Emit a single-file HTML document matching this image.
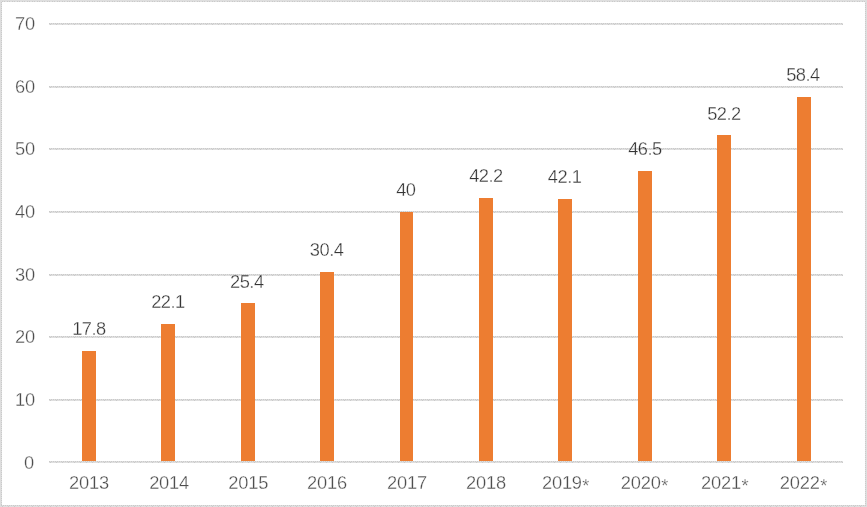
<!DOCTYPE html>
<html lang="en">
<head>
<meta charset="utf-8">
<title>Chart</title>
<style>
html,body{margin:0;padding:0;background:#fff;}
body{width:867px;height:507px;overflow:hidden;}
svg{display:block;}
text{font-family:"Liberation Sans",sans-serif;font-size:18.3px;fill:#4e4e4e;letter-spacing:-0.2px;stroke:#fff;stroke-width:0.3px;}
rect{shape-rendering:crispEdges;}
.b{fill:#ed7d31;}
.y{text-anchor:end;}
.x,.d{text-anchor:middle;}
.d{fill:#353535;letter-spacing:-0.5px;}
</style>
</head>
<body>
<svg width="867" height="507" viewBox="0 0 867 507">
<defs>
<pattern id="sp" x="2" y="0" width="6" height="1" patternUnits="userSpaceOnUse">
<rect x="0" y="0" width="6" height="1" fill="#dfdfdf"/><rect x="0" y="0" width="1" height="1" fill="#cacaca"/>
</pattern>
<pattern id="vl" x="0" y="1" width="1" height="2" patternUnits="userSpaceOnUse">
<rect x="0" y="0" width="1" height="1" fill="#cacaca"/><rect x="0" y="1" width="1" height="1" fill="#dfdfdf"/>
</pattern>
<pattern id="vl2" x="0" y="0" width="1" height="2" patternUnits="userSpaceOnUse">
<rect x="0" y="0" width="1" height="1" fill="#cacaca"/><rect x="0" y="1" width="1" height="1" fill="#dfdfdf"/>
</pattern>
<pattern id="tp" x="2" y="0" width="5" height="1" patternUnits="userSpaceOnUse">
<rect x="0" y="0" width="5" height="1" fill="#dfdfdf"/><rect x="0" y="0" width="1" height="1" fill="#cacaca"/><rect x="2" y="0" width="1" height="1" fill="#cacaca"/>
</pattern>
<pattern id="hl" x="1" y="0" width="2" height="1" patternUnits="userSpaceOnUse">
<rect x="0" y="0" width="1" height="1" fill="#cacaca"/><rect x="1" y="0" width="1" height="1" fill="#dfdfdf"/>
</pattern>
</defs>
<rect x="0" y="0" width="867" height="507" fill="#ffffff"/>
<rect x="0" y="0" width="867" height="1" fill="#dedede"/>
<rect x="0" y="506" width="867" height="1" fill="url(#sp)"/>
<rect x="0" y="0" width="1" height="507" fill="#dedede"/>
<rect x="866" y="0" width="1" height="507" fill="#dedede"/>
<rect x="1" y="1" width="865" height="1" fill="url(#tp)"/>
<rect x="1" y="505" width="865" height="1" fill="url(#hl)"/>
<rect x="1" y="2" width="1" height="503" fill="url(#vl2)"/>
<rect x="865" y="2" width="1" height="503" fill="url(#vl)"/>
<text class="y" x="34.0" y="468.5">0</text>
<text class="y" x="35.0" y="405.5">10</text>
<text class="y" x="35.0" y="342.5">20</text>
<text class="y" x="35.0" y="280.5">30</text>
<text class="y" x="35.0" y="217.5">40</text>
<text class="y" x="35.0" y="154.5">50</text>
<text class="y" x="35.0" y="92.5">60</text>
<text class="y" x="35.0" y="29.5">70</text>
<text class="x" x="89.0" y="489">2013</text>
<text class="d" x="89.0" y="334.6">17.8</text>
<text class="x" x="169.1" y="489">2014</text>
<text class="d" x="168.0" y="307.7">22.1</text>
<text class="x" x="248.2" y="489">2015</text>
<text class="d" x="246.8" y="287.9">25.4</text>
<text class="x" x="327.0" y="489">2016</text>
<text class="d" x="326.6" y="255.8">30.4</text>
<text class="x" x="407.0" y="489">2017</text>
<text class="d" x="405.8" y="195.7">40</text>
<text class="x" x="486.0" y="489">2018</text>
<text class="d" x="486.0" y="181.9">42.2</text>
<text class="x" x="565.6" y="489" dx="0 0 0 0 0.5" dy="0 0 0 0 3">2019*</text>
<text class="d" x="564.6" y="182.6">42.1</text>
<text class="x" x="644.4" y="489" dx="0 0 0 0 0.5" dy="0 0 0 0 3">2020*</text>
<text class="d" x="645.0" y="155.0">46.5</text>
<text class="x" x="724.7" y="489" dx="0 0 0 0 0.5" dy="0 0 0 0 3">2021*</text>
<text class="d" x="724.0" y="120.2">52.2</text>
<text class="x" x="803.4" y="489" dx="0 0 0 0 0.5" dy="0 0 0 0 3">2022*</text>
<text class="d" x="803.0" y="80.6">58.4</text>
<g style="mix-blend-mode:multiply">
<rect x="49" y="461" width="794" height="1" fill="url(#hl)"/><rect x="49" y="462" width="794" height="1" fill="url(#sp)"/>
<rect x="49" y="399" width="794" height="1" fill="url(#hl)"/><rect x="49" y="400" width="794" height="1" fill="url(#sp)"/>
<rect x="49" y="336" width="794" height="1" fill="url(#hl)"/><rect x="49" y="337" width="794" height="1" fill="url(#sp)"/>
<rect x="49" y="274" width="794" height="1" fill="url(#hl)"/><rect x="49" y="275" width="794" height="1" fill="url(#sp)"/>
<rect x="49" y="211" width="794" height="1" fill="url(#hl)"/><rect x="49" y="212" width="794" height="1" fill="url(#sp)"/>
<rect x="49" y="148" width="794" height="1" fill="url(#hl)"/><rect x="49" y="149" width="794" height="1" fill="url(#sp)"/>
<rect x="49" y="86" width="794" height="1" fill="url(#hl)"/><rect x="49" y="87" width="794" height="1" fill="url(#sp)"/>
<rect x="49" y="23" width="794" height="1" fill="url(#hl)"/><rect x="49" y="24" width="794" height="1" fill="url(#sp)"/>
</g>
<rect class="b" x="82" y="351" width="14" height="110"/>
<rect class="b" x="161" y="324" width="14" height="137"/>
<rect class="b" x="241" y="303" width="14" height="158"/>
<rect class="b" x="320" y="272" width="14" height="189"/>
<rect class="b" x="400" y="212" width="13" height="249"/>
<rect class="b" x="479" y="198" width="14" height="263"/>
<rect class="b" x="558" y="199" width="14" height="262"/>
<rect class="b" x="638" y="171" width="14" height="290"/>
<rect class="b" x="717" y="135" width="14" height="326"/>
<rect class="b" x="797" y="97" width="14" height="364"/>
</svg>
</body>
</html>
